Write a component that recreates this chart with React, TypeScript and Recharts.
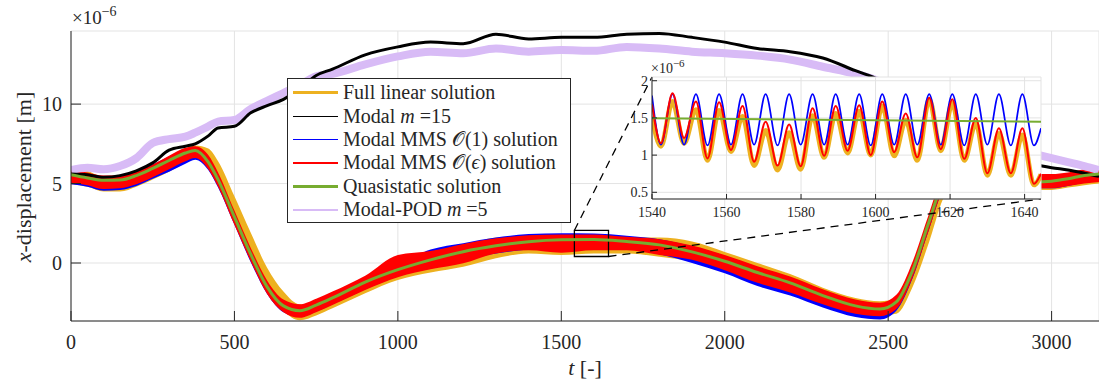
import React from 'react';
import { ComposedChart, Area, Line, XAxis, YAxis, CartesianGrid, ReferenceArea, ReferenceLine } from 'recharts';

// main plot: t grid and values (x 1e-6 m)
const TIME = [0, 50, 100, 150, 200, 250, 300, 350, 380, 420, 450, 500, 550, 600, 650, 700, 750, 800, 900, 1000, 1100, 1200, 1300, 1400, 1500, 1600, 1700, 1800, 1900, 2000, 2100, 2200, 2300, 2400, 2475, 2525, 2575, 2625, 2675, 2750, 2850, 2950, 3000, 3050, 3100, 3145];
const QUASISTATIC = [5.55, 5.35, 5.2, 5.22, 5.5, 5.95, 6.45, 6.92, 7.08, 6.35, 5.25, 2.9, 0.55, -1.5, -2.7, -3.0, -2.65, -2.2, -1.2, -0.42, 0.2, 0.71, 1.08, 1.34, 1.46, 1.48, 1.35, 1.14, 0.7, 0.11, -0.6, -1.25, -2.05, -2.7, -2.9, -2.45, -0.45, 2.6, 5.3, 6.0, 5.5, 5.1, 5.15, 5.3, 5.5, 5.6];
const MMS1_LO = [4.95, 4.8, 4.55, 4.6, 4.85, 5.3, 5.75, 6.25, 6.5, 5.85, 4.75, 2.4, 0.05, -1.95, -3.1, -3.4, -3.05, -2.6, -1.65, -0.85, -0.3, 0.2, 0.6, 0.85, 1.0, 1.08, 0.95, 0.55, 0.0, -0.65, -1.45, -2.05, -2.8, -3.4, -3.55, -3.0, -0.95, 2.1, 4.8, 5.55, 5.05, 4.7, 4.7, 4.85, 5.05, 5.15];
const MMS1_HI = [5.8, 5.6, 5.45, 5.47, 5.75, 6.2, 6.7, 7.15, 7.3, 6.6, 5.5, 3.15, 0.8, -1.25, -2.4, -2.7, -2.35, -1.9, -0.9, -0.1, 0.85, 1.25, 1.6, 1.82, 1.88, 1.85, 1.72, 1.5, 1.05, 0.45, -0.3, -0.95, -1.75, -2.4, -2.6, -2.15, -0.15, 2.9, 5.6, 6.3, 5.8, 5.4, 5.45, 5.6, 5.8, 5.9];
const EPS_LO = [5.05, 4.9, 4.65, 4.7, 4.95, 5.4, 5.9, 6.4, 6.6, 5.9, 4.8, 2.4, 0.1, -1.95, -3.1, -3.45, -3.1, -2.65, -1.7, -0.9, -0.4, -0.02, 0.6, 0.8, 0.65, 0.8, 0.8, 0.5, 0.2, -0.45, -1.25, -1.85, -2.6, -3.2, -3.35, -2.9, -0.9, 2.1, 4.8, 5.5, 5.0, 4.7, 4.7, 4.85, 5.0, 5.1];
const EPS_HI = [5.85, 5.7, 5.5, 5.5, 5.75, 6.2, 6.75, 7.25, 7.35, 6.8, 5.7, 3.3, 0.95, -1.1, -2.3, -2.6, -2.25, -1.8, -0.8, 0.5, 0.75, 1.2, 1.55, 1.75, 1.8, 1.8, 1.65, 1.5, 1.1, 0.5, -0.2, -0.85, -1.65, -2.3, -2.5, -2.0, 0.1, 3.1, 5.8, 6.5, 6.0, 5.6, 5.6, 5.7, 5.9, 6.0];
const FULL_LO = [4.95, 4.8, 4.5, 4.5, 4.8, 5.25, 5.75, 6.3, 6.6, 6.2, 5.3, 3.0, 0.6, -1.6, -3.0, -3.6, -3.3, -2.85, -1.9, -1.07, -0.6, -0.23, 0.3, 0.6, 0.5, 0.6, 0.6, 0.4, 0.1, -0.45, -1.15, -1.8, -2.55, -3.15, -3.3, -3.2, -1.5, 1.3, 4.3, 5.4, 4.9, 4.6, 4.6, 4.75, 4.9, 5.0];
const FULL_HI = [6.0, 5.8, 5.4, 5.4, 5.6, 6.0, 6.6, 7.2, 7.4, 7.2, 6.4, 4.2, 1.9, -0.3, -1.8, -2.6, -2.4, -1.95, -1.0, -0.1, 0.6, 1.1, 1.6, 1.7, 1.7, 1.75, 1.6, 1.6, 1.35, 0.7, 0.0, -0.7, -1.55, -2.2, -2.4, -2.2, -0.3, 2.7, 5.6, 6.4, 5.9, 5.5, 5.5, 5.6, 5.8, 5.9];
const MODAL15 = [5.6, 5.55, 5.4, 5.5, 5.8, 6.3, 7.1, 7.35, 7.5, 8.0, 8.5, 8.6, 9.45, 9.9, 10.3, 11.0, 11.8, 12.2, 13.1, 13.6, 13.9, 13.8, 14.4, 14.1, 14.2, 14.2, 14.4, 14.45, 14.2, 13.9, 13.5, 13.3, 12.9, 12.1, 11.5, 10.9, 10.0, 9.2, 8.5, 7.7, 6.9, 6.2, 6.0, 5.85, 5.65, 5.45];
const POD5 = [5.85, 6.0, 5.9, 6.1, 6.6, 7.55, 7.8, 7.95, 8.2, 8.6, 8.9, 9.0, 9.7, 10.2, 10.7, 11.2, 11.75, 11.9, 12.5, 13.0, 13.3, 13.2, 13.5, 13.3, 13.4, 13.35, 13.6, 13.5, 13.3, 13.2, 13.05, 12.8, 12.35, 11.9, 11.4, 10.8, 10.1, 9.4, 8.7, 8.0, 7.3, 6.85, 6.6, 6.35, 6.1, 5.85];

// inset: alternating troughs and peaks of the oscillation
const INSET_T = [1540, 1542.4, 1545.5, 1548.6, 1551.8, 1554.9, 1558.0, 1561.2, 1564.3, 1567.4, 1570.5, 1573.7, 1576.8, 1579.9, 1583.1, 1586.2, 1589.3, 1592.5, 1595.6, 1598.7, 1601.8, 1605.0, 1608.1, 1611.2, 1614.4, 1617.5, 1620.6, 1623.8, 1626.9, 1630.0, 1633.1, 1636.3, 1639.4, 1642.5, 1644.4];
const INSET_FULL = [1.52, 1.12, 1.72, 1.16, 1.61, 0.93, 1.6, 1.05, 1.52, 0.86, 1.33, 0.8, 1.3, 0.81, 1.53, 0.97, 1.56, 1.03, 1.59, 1.0, 1.66, 0.99, 1.47, 0.93, 1.75, 1.06, 1.7, 0.93, 1.43, 0.73, 1.29, 0.73, 1.27, 0.6, 0.74];
const INSET_MMS1 = [1.80, 1.14, 1.82, 1.14, 1.82, 1.13, 1.82, 1.14, 1.82, 1.14, 1.82, 1.13, 1.82, 1.14, 1.82, 1.14, 1.82, 1.14, 1.82, 1.13, 1.82, 1.14, 1.82, 1.14, 1.82, 1.14, 1.82, 1.13, 1.82, 1.14, 1.82, 1.13, 1.82, 1.13, 1.36];
const INSET_EPS = [1.68, 1.16, 1.83, 1.23, 1.72, 0.955, 1.71, 1.07, 1.66, 0.91, 1.45, 0.86, 1.41, 0.85, 1.63, 0.99, 1.66, 1.06, 1.67, 1.0, 1.72, 1.04, 1.56, 0.97, 1.77, 1.08, 1.75, 0.95, 1.5, 0.755, 1.36, 0.755, 1.36, 0.615, 0.75];
const INSET_QS_T = [1540, 1644.4];
const INSET_QS = [1.495, 1.45];

const X_TICKS = [0, 500, 1000, 1500, 2000, 2500, 3000];
const Y_TICKS = [0, 5, 10];
const INSET_X_TICKS = [1540, 1560, 1580, 1600, 1620, 1640];
const INSET_Y_TICKS = [0.5, 1, 1.5, 2];

const X_DOMAIN = [0, 3145];
const Y_DOMAIN = [-3.65, 14.6];
const INSET_X_DOMAIN = [1540, 1644.4];
const INSET_Y_DOMAIN = [0.41, 2.05];

const W = 1099, H = 386;
const PLOT_LEFT = 71, PLOT_RIGHT = 1099, PLOT_TOP = 31, PLOT_BOTTOM = 321;
// inset placement (page px)
const IN_LEFT = 600, IN_TOP = 50, IN_W = 445, IN_H = 180;
const IN_PLOT = { left: 652, top: 77, right: 1041, bottom: 199 };

const AXIS = '#262626';
const GRID = '#e3e3e3';
const FONT = '"Liberation Serif", "Times New Roman", serif';
const C = {
  full: '#EDB120', modal: '#000000', mms1: '#0000FF',
  eps: '#FF0000', quasi: '#77AC30', pod: '#D8BBF6',
};

const mainRows = TIME.map((t, i) => ({
  t,
  full: [FULL_LO[i], FULL_HI[i]],
  mms1: [MMS1_LO[i], MMS1_HI[i]],
  eps: [EPS_LO[i], EPS_HI[i]],
  quasi: QUASISTATIC[i],
  modal: MODAL15[i],
  pod: POD5[i],
}));
const insetRows = INSET_T.map((t, i) => ({ t, full: INSET_FULL[i], mms1: INSET_MMS1[i], eps: INSET_EPS[i] }));
const insetQs = INSET_QS_T.map((t, i) => ({ t, quasi: INSET_QS[i] }));

// page px -> main data coords, for the zoom connector lines
const pxToT = (px: number) => X_DOMAIN[0] + (px - PLOT_LEFT) / (PLOT_RIGHT - PLOT_LEFT) * (X_DOMAIN[1] - X_DOMAIN[0]);
const pyToV = (py: number) => Y_DOMAIN[1] - (py - PLOT_TOP) / (PLOT_BOTTOM - PLOT_TOP) * (Y_DOMAIN[1] - Y_DOMAIN[0]);

const XTick = (props: any) => (
  <g>
    <line x1={props.x} x2={props.x} y1={PLOT_BOTTOM} y2={PLOT_BOTTOM - 10} stroke={AXIS} />
    <text x={props.x} y={349} textAnchor="middle" fontFamily={FONT} fontSize={20} fill={AXIS}>{props.payload.value}</text>
  </g>
);
const YTick = (props: any) => (
  <g>
    <line x1={PLOT_LEFT} x2={PLOT_LEFT + 10} y1={props.y} y2={props.y} stroke={AXIS} />
    <text x={62} y={props.y + 7} textAnchor="end" fontFamily={FONT} fontSize={20} fill={AXIS}>{props.payload.value}</text>
  </g>
);
const InXTick = (props: any) => (
  <g>
    <line x1={props.x} x2={props.x} y1={IN_PLOT.bottom - IN_TOP} y2={IN_PLOT.bottom - IN_TOP - 5} stroke={AXIS} />
    <text x={props.x} y={217 - IN_TOP} textAnchor="middle" fontFamily={FONT} fontSize={14} fill={AXIS}>{props.payload.value}</text>
  </g>
);
const InYTick = (props: any) => (
  <g>
    <line x1={IN_PLOT.left - IN_LEFT} x2={IN_PLOT.left - IN_LEFT + 5} y1={props.y} y2={props.y} stroke={AXIS} />
    <text x={IN_PLOT.left - IN_LEFT - 4} y={props.y + 5} textAnchor="end" fontFamily={FONT} fontSize={14} fill={AXIS}>{props.payload.value}</text>
  </g>
);

const YLabel = () => (
  <g fontFamily={FONT} fill={AXIS}>
    <text transform="translate(31,177) rotate(-90)" textAnchor="middle" fontSize={22}>
      <tspan fontStyle="italic">x</tspan>-displacement [m]
    </text>
    <text x={72} y={24} fontSize={19}>
      ×10<tspan dy={-8} fontSize={14}>−6</tspan>
    </text>
  </g>
);
const XLabel = () => (
  <text x={585} y={375} textAnchor="middle" fontFamily={FONT} fontSize={22} fill={AXIS}>
    <tspan fontStyle="italic">t</tspan> [-]
  </text>
);
const InYLabel = () => (
  <text x={IN_PLOT.left - IN_LEFT - 1} y={73 - IN_TOP} fontFamily={FONT} fontSize={14} fill={AXIS}>
    ×10<tspan dy={-6} fontSize={11}>−6</tspan>
  </text>
);

const LEGEND = [
  { color: C.full, width: 3, label: <>Full linear solution</> },
  { color: C.modal, width: 1, label: <>Modal <i>m</i> =15</> },
  { color: C.mms1, width: 1.5, label: <>Modal MMS 𝒪(1) solution</> },
  { color: C.eps, width: 1.5, label: <>Modal MMS 𝒪(<i>ϵ</i>) solution</> },
  { color: C.quasi, width: 3, label: <>Quasistatic solution</> },
  { color: C.pod, width: 2, label: <>Modal-POD <i>m</i> =5</> },
];

function LegendBox() {
  return (
    <div style={{
      position: 'absolute', left: 287, top: 78, width: 284, height: 145,
      border: `1px solid ${AXIS}`, background: '#fff', fontFamily: FONT, fontSize: 20, color: AXIS,
      padding: '2px 0 0 0', boxSizing: 'border-box',
    }}>
      {LEGEND.map((r, i) => (
        <div key={i} style={{ height: 23.4, display: 'flex', alignItems: 'center', whiteSpace: 'nowrap' }}>
          <div style={{ width: 45, marginLeft: 5, marginRight: 5, height: r.width, background: r.color, flexShrink: 0 }} />
          <span>{r.label}</span>
        </div>
      ))}
    </div>
  );
}

export default function App() {
  const cornerTL = { x: pxToT(IN_PLOT.left), y: pyToV(IN_PLOT.top) };
  const cornerBR = { x: pxToT(IN_PLOT.right), y: pyToV(IN_PLOT.bottom) };
  return (
    <div style={{ position: 'absolute', left: 0, top: 0, width: W, height: H, background: '#fff' }}>
      <ComposedChart width={W} height={H} data={mainRows} margin={{ top: PLOT_TOP, right: W - PLOT_RIGHT, left: PLOT_LEFT - 60, bottom: H - PLOT_BOTTOM - 40 }}>
        <CartesianGrid stroke={GRID} />
        <XAxis dataKey="t" type="number" domain={X_DOMAIN} ticks={X_TICKS} interval={0} allowDataOverflow
          height={40} axisLine={{ stroke: AXIS }} tickLine={false} tick={<XTick />} label={<XLabel />} />
        <YAxis type="number" domain={Y_DOMAIN} ticks={Y_TICKS} interval={0} allowDataOverflow
          width={60} axisLine={{ stroke: AXIS }} tickLine={false} tick={<YTick />} label={<YLabel />} />
        <Area dataKey="full" type="monotone" stroke="none" fill={C.full} fillOpacity={1} isAnimationActive={false} />
        <Area dataKey="mms1" type="monotone" stroke="none" fill={C.mms1} fillOpacity={1} isAnimationActive={false} />
        <Area dataKey="eps" type="monotone" stroke="none" fill={C.eps} fillOpacity={1} isAnimationActive={false} />
        <Line dataKey="pod" type="monotone" stroke={C.pod} strokeWidth={8} dot={false} isAnimationActive={false} />
        <Line dataKey="modal" type="monotone" stroke={C.modal} strokeWidth={3} dot={false} isAnimationActive={false} />
        <Line dataKey="quasi" type="monotone" stroke={C.quasi} strokeWidth={3} dot={false} isAnimationActive={false} />
        <ReferenceArea x1={INSET_X_DOMAIN[0]} x2={INSET_X_DOMAIN[1]} y1={INSET_Y_DOMAIN[0]} y2={INSET_Y_DOMAIN[1]}
          fill="none" fillOpacity={0} stroke="#000" strokeWidth={1.3} ifOverflow="visible" />
        <ReferenceLine segment={[{ x: INSET_X_DOMAIN[0], y: INSET_Y_DOMAIN[1] }, cornerTL]} stroke="#000"
          strokeWidth={1.3} strokeDasharray="8 6" ifOverflow="visible" />
        <ReferenceLine segment={[{ x: INSET_X_DOMAIN[1], y: INSET_Y_DOMAIN[0] }, cornerBR]} stroke="#000"
          strokeWidth={1.3} strokeDasharray="8 6" ifOverflow="visible" />
      </ComposedChart>

      <div style={{ position: 'absolute', left: IN_LEFT, top: IN_TOP }}>
        <ComposedChart width={IN_W} height={IN_H} data={insetRows}
          margin={{ top: IN_PLOT.top - IN_TOP, right: IN_LEFT + IN_W - IN_PLOT.right, left: IN_PLOT.left - IN_LEFT - 40, bottom: IN_TOP + IN_H - IN_PLOT.bottom - 25 }}>
          <CartesianGrid stroke={GRID} fill="#fff" fillOpacity={1} />
          <XAxis dataKey="t" type="number" domain={INSET_X_DOMAIN} ticks={INSET_X_TICKS} interval={0} allowDataOverflow
            height={25} axisLine={{ stroke: AXIS }} tickLine={false} tick={<InXTick />} />
          <YAxis type="number" domain={INSET_Y_DOMAIN} ticks={INSET_Y_TICKS} interval={0} allowDataOverflow
            width={40} axisLine={{ stroke: AXIS }} tickLine={false} tick={<InYTick />} label={<InYLabel />} />
          <Line dataKey="full" type="monotone" stroke={C.full} strokeWidth={5} dot={false} isAnimationActive={false} />
          <Line dataKey="mms1" type="monotone" stroke={C.mms1} strokeWidth={1.7} dot={false} isAnimationActive={false} />
          <Line dataKey="eps" type="monotone" stroke={C.eps} strokeWidth={2} dot={false} isAnimationActive={false} />
          <Line data={insetQs} dataKey="quasi" type="linear" stroke={C.quasi} strokeWidth={2} dot={false} isAnimationActive={false} />
        </ComposedChart>
      </div>

      <LegendBox />
    </div>
  );
}
